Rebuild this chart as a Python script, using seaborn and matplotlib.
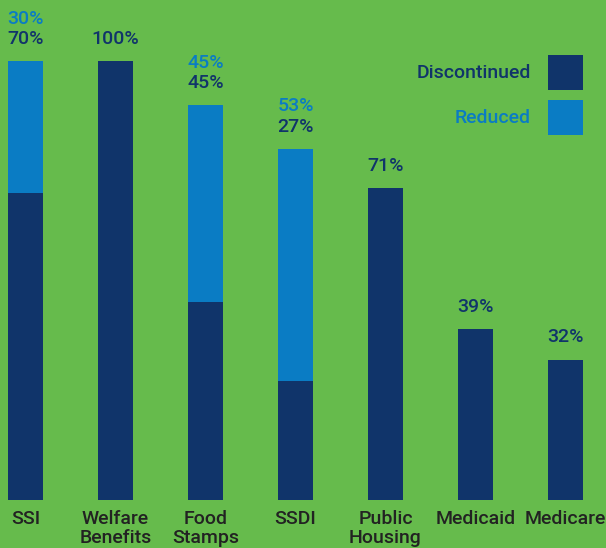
import matplotlib
matplotlib.use("Agg")
import matplotlib.pyplot as plt
import matplotlib.patches as mpatches
import pandas as pd
import seaborn as sns

# Data (percent)
categories = ["SSI", "Welfare\nBenefits", "Food\nStamps", "SSDI", "Public\nHousing", "Medicaid", "Medicare"]
discontinued = [70, 100, 45, 27, 71, 39, 32]
reduced = [30, 0, 45, 53, 0, 0, 0]
legend_labels = ["Discontinued", "Reduced"]

green = "#66bb4c"
navy = "#10346a"
blue = "#0a7cc4"
text_dark = "#222222"

df = pd.DataFrame({"category": categories, "discontinued": discontinued, "reduced": reduced})
df["total"] = df["discontinued"] + df["reduced"]

sns.set_style("white")
plt.rcParams["font.family"] = ["Roboto", "DejaVu Sans"]
plt.rcParams["font.weight"] = "medium"

W, H = 606, 548
fs = 14
fig = plt.figure(figsize=(W / 100, H / 100), dpi=100)
fig.patch.set_facecolor(green)
ax = fig.add_axes([0, 48 / H, 1, 500 / H])
ax.set_facecolor(green)

# Stacked bars: total in light blue, discontinued in navy drawn over it
bw = 35 / 90
sns.barplot(data=df, x="category", y="total", color=blue, width=bw,
            saturation=1, linewidth=0, ax=ax, errorbar=None)
sns.barplot(data=df, x="category", y="discontinued", color=navy, width=bw,
            saturation=1, linewidth=0, ax=ax, errorbar=None)

ax.set_xlim(-25.5 / 90, (W - 25.5) / 90)
ax.set_ylim(0, 500 / 4.39)
for s in ax.spines.values():
    s.set_visible(False)
ax.set_yticks([])
ax.set_xlabel("")
ax.set_ylabel("")
ax.tick_params(axis="x", length=0, pad=7.5, labelsize=fs, labelcolor=text_dark)
for lab in ax.get_xticklabels():
    lab.set_linespacing(1.02)
    lab.set_fontweight("medium")

# Value labels above bars
for i, row in df.iterrows():
    top = row["total"]
    ax.annotate(f"{row['discontinued']}%", (i, top), xytext=(0, 16), textcoords="offset points",
                ha="center", va="center", fontsize=fs, color=navy, fontweight="medium")
    if row["reduced"] > 0:
        ax.annotate(f"{row['reduced']}%", (i, top), xytext=(0, 30.5), textcoords="offset points",
                    ha="center", va="center", fontsize=fs, color=blue, fontweight="medium")

# Legend: label text followed by a square swatch
for k, (lab, col) in enumerate(zip(legend_labels, [navy, blue])):
    y0 = 55 + 45 * k
    fig.add_artist(mpatches.Rectangle((548 / W, 1 - (y0 + 35) / H), 35 / W, 35 / H,
                                      transform=fig.transFigure, color=col, linewidth=0))
    fig.text(531 / W, 1 - (y0 + 18) / H, lab, ha="right", va="center",
             fontsize=fs, color=col, fontweight="medium")

fig.savefig("out.png", dpi=100, facecolor=green)
